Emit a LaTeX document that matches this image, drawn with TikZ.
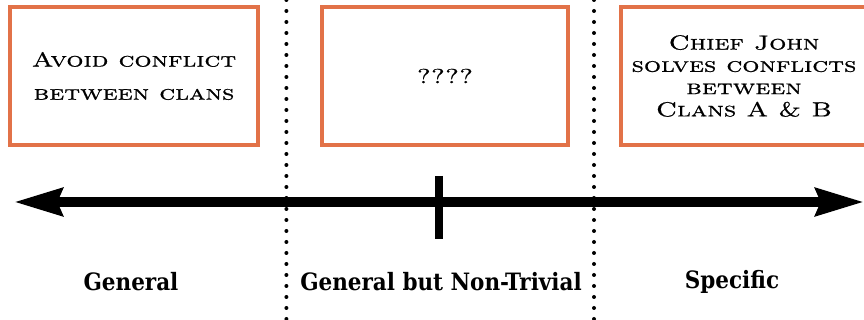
\documentclass[tikz,border=0pt]{standalone}
\usepackage{fontspec}
\newfontfamily\labelfont{DejaVu Serif Condensed}
\newfontfamily\capsfont{lmromancaps10-regular.otf}[FakeStretch=1.32, AutoFakeBold=0.9]
\usetikzlibrary{arrows.meta,positioning}
\definecolor{boxorange}{RGB}{226,114,72}

\begin{document}
\begin{tikzpicture}[
    idea/.style={draw=boxorange, line width=2.2pt, minimum width=6.2cm, minimum height=3.45cm, align=center, inner sep=0pt, font=\capsfont\bfseries\fontsize{14.5}{15}\selectfont},
    zone/.style={font=\labelfont\bfseries\fontsize{17}{20}\selectfont},
    divider/.style={line width=0.1cm, line cap=round, dash pattern=on 0pt off 0.275cm},
    axisline/.style={{Stealth[length=1.2cm, width=0.675cm, inset=0.12cm]}-{Stealth[length=1.2cm, width=0.675cm, inset=0.12cm]}, line width=0.25cm},
    tick/.style={line width=0.22cm}
  ]
    \useasboundingbox (0,0) rectangle (21.6,8);

    % dotted separators
    \coordinate (d1top) at (7.16,8.0);
    \coordinate (d1bot) at (7.16,0.0);
    \coordinate (d2top) at (14.85,8.0);
    \coordinate (d2bot) at (14.85,0.0);
    \draw[divider] (d1top) -- (d1bot);
    \draw[divider] (d2top) -- (d2bot);

    % boxes
    \node[idea] (general) at (3.35,6.1) {Avoid conflict\\[0.3cm] between clans};
    \node[idea, minimum width=6.15cm] (middle) at (11.125,6.1) {????};
    \node[idea, minimum width=6.15cm] (specific) at (18.6,6.1) {Chief John\\[0.03cm] solves conflicts\\[0.03cm] between\\[0.03cm] Clans A \& B};

    % axis
    \coordinate (leftend) at (0.35,2.95);
    \coordinate (rightend) at (21.6,2.95);
    \draw[axisline] (leftend) -- (rightend);
    \coordinate (ticktop) at (10.975,3.6);
    \coordinate (tickbot) at (10.975,2.025);
    \draw[tick] (ticktop) -- (tickbot);

    % labels
    \node[zone] (lgeneral) at (3.275,0.95) {General};
    \node[zone] (lmiddle) at (11.025,0.95) {General but Non-Trivial};
    \node[zone] (lspecific) at (18.3,0.95) {Specific};
\end{tikzpicture}
\end{document}
